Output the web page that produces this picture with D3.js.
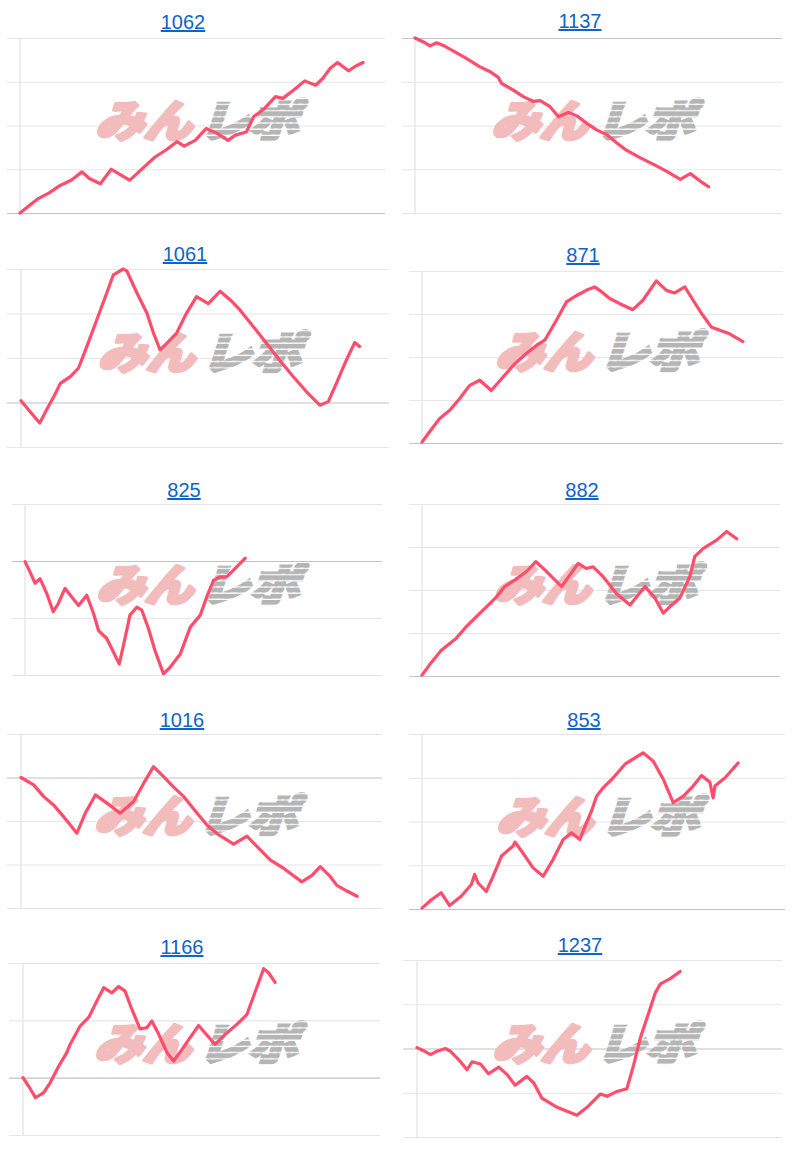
<!DOCTYPE html>
<html>
<head>
<meta charset="utf-8">
<script src="https://cdn.jsdelivr.net/npm/d3@7"></script>
<style>
  html, body { margin: 0; padding: 0; background: #fff; }
  svg { display: block; }
</style>
</head>
<body>
<svg id="chart" width="800" height="1156"></svg>
<script>
// ---------- DATA ----------
const titles = ["1062", "1137", "1061", "871", "825", "882", "1016", "853", "1166", "1237"];

const ticks1062 = [0, 1, 2, 3, 4];
const days1062 = [0,3,5,8,11,14,17,19,22,25,27,30,31,35,37,40,43,45,48,51,54,57,59,62,64,67,70,72,75,78,81,83,85,87,90,92,94];
const values1062 = [0,0.2,0.33,0.46,0.63,0.75,0.94,0.79,0.67,1.0,0.9,0.75,0.82,1.13,1.28,1.44,1.63,1.53,1.66,1.93,1.82,1.66,1.78,1.85,2.2,2.39,2.66,2.62,2.81,3.02,2.92,3.08,3.31,3.44,3.25,3.36,3.44];

const ticks1137 = [-4, -3, -2, -1, 0];
const days1137 = [0,2.3,4.1,5.9,7.7,10.5,14.1,17.7,20.5,22.7,23.6,26.8,29.5,32.3,34.1,36.8,39.1,41.8,44.1,46.8,49.5,52.3,55,57.7,61.4,65,68.6,72.3,75,77.7,80];
const values1137 = [0,-0.09,-0.18,-0.11,-0.17,-0.3,-0.47,-0.66,-0.77,-0.9,-1.04,-1.19,-1.34,-1.45,-1.43,-1.57,-1.8,-1.7,-1.78,-1.95,-2.1,-2.21,-2.4,-2.57,-2.74,-2.89,-3.05,-3.23,-3.1,-3.27,-3.4];

const ticks1061 = [-1, 0, 1, 2, 3];
const days1061 = [0,2.5,5.1,7.1,8.9,10.7,13.4,15.6,17.9,20.6,23.3,25.1,27.8,28.8,31.5,34.2,36,37.8,39.6,42.3,45,47.7,50.9,54.1,56.8,59.5,63.1,66.7,70.3,74,77.6,81.2,83.5,85.7,88.4,90.7,92];
const values1061 = [0.04,-0.21,-0.46,-0.14,0.13,0.43,0.58,0.77,1.26,1.86,2.46,2.87,3.0,2.95,2.46,2.01,1.56,1.18,1.33,1.56,2.01,2.38,2.22,2.5,2.31,2.08,1.71,1.33,0.95,0.58,0.24,-0.06,0.02,0.43,0.95,1.35,1.26];

const ticks871 = [0, 1, 2, 3, 4];
const days871 = [0,2.1,4.9,7.7,10.4,13.2,16,19.2,22.4,25.7,28.9,31.7,34,37.2,40,42.8,45.5,47.8,49.2,52,54.8,58.4,61.2,64.9,67.7,70,72.8,75.1,77.8,80.1,82.5,85.2,88.9];
const values871 = [0.02,0.26,0.57,0.76,1.03,1.34,1.46,1.22,1.53,1.84,2.08,2.27,2.39,2.85,3.28,3.43,3.55,3.63,3.55,3.36,3.24,3.1,3.32,3.77,3.55,3.49,3.63,3.32,2.97,2.7,2.62,2.54,2.36];

const ticks825 = [-2, -1, 0, 1];
const days825 = [0,1.4,2.8,4.2,6.1,7.9,9.3,11.2,13.1,15,17.3,19.2,20.6,22.9,24.8,26.4,28,29.4,31.3,32.7,34.6,36.4,38.8,40.7,43.5,46.3,49.1,50.9,52.8,54.7,56.5,58.4,61.7];
const values825 = [-0.01,-0.19,-0.39,-0.31,-0.57,-0.89,-0.75,-0.48,-0.63,-0.78,-0.6,-0.92,-1.22,-1.36,-1.6,-1.81,-1.36,-0.95,-0.81,-0.86,-1.19,-1.57,-1.98,-1.86,-1.63,-1.16,-0.95,-0.63,-0.34,-0.28,-0.28,-0.16,0.05];

const ticks882 = [0, 1, 2, 3, 4];
const days882 = [0,2.1,5.4,9.6,12.4,15.2,18,20.8,23.1,25.9,29.2,31.8,34.8,39,41.3,43.6,45.9,47.8,50.6,54.3,58.1,62.3,65.1,67.4,69.2,72,74.8,76.2,78.6,82.3,85.1,87.9];
const values882 = [0.02,0.26,0.6,0.88,1.15,1.38,1.61,1.84,2.08,2.23,2.43,2.66,2.43,2.08,2.35,2.62,2.5,2.54,2.31,1.92,1.65,2.08,1.81,1.46,1.61,1.81,2.31,2.78,2.97,3.16,3.36,3.19];

const ticks1016 = [-3, -2, -1, 0, 1];
const days1016 = [0,3.5,6.3,9,11.8,15.5,17.8,20.6,23.8,27.5,31.2,34,36.7,39.5,42.3,45.1,48.8,51.5,54.8,58.9,62.6,65.4,69.1,72.8,77.8,80.6,82.9,85.7,87.5,90.3,93.1];
const values1016 = [0,-0.17,-0.44,-0.63,-0.9,-1.28,-0.82,-0.4,-0.59,-0.82,-0.55,-0.13,0.25,0.02,-0.22,-0.44,-0.82,-1.09,-1.32,-1.53,-1.35,-1.59,-1.9,-2.09,-2.4,-2.25,-2.05,-2.28,-2.48,-2.61,-2.73];

const ticks853 = [0, 1, 2, 3, 4];
const days853 = [0,2.6,5.3,7.6,10.8,13.6,14.5,15.4,17.7,19.6,21.9,25.1,25.6,27.8,30.6,33.4,36.1,38.9,41.2,43.5,45.3,46.7,48.1,49.9,52.7,55.9,60.9,63.7,66.5,69.2,72,74.7,77,79.3,80.2,80.7,83.5,87.1];
const values853 = [0.02,0.21,0.37,0.08,0.29,0.56,0.79,0.6,0.4,0.75,1.21,1.44,1.53,1.28,0.94,0.75,1.13,1.59,1.74,1.59,1.97,2.24,2.58,2.77,3.0,3.31,3.57,3.38,2.96,2.43,2.58,2.81,3.05,2.9,2.54,2.81,3.0,3.34];

const ticks1166 = [-1, 0, 1, 2];
const days1166 = [0,1.6,3.5,5.8,7.6,10,12.3,13.2,16,18.4,20.7,22.6,24.9,26.8,28.6,30.5,32.8,34.7,36.1,38,40.3,42.2,44.5,46.8,49.2,51,53.8,57.1,59.9,62.7,64.6,67.4,68.8,70.6];
const values1166 = [0,-0.15,-0.35,-0.26,-0.09,0.2,0.44,0.58,0.9,1.05,1.34,1.57,1.48,1.59,1.51,1.19,0.85,0.87,0.99,0.76,0.44,0.29,0.49,0.7,0.91,0.78,0.58,0.78,0.93,1.1,1.42,1.9,1.83,1.66];

const ticks1237 = [-2, -1, 0, 1, 2];
const days1237 = [0,1.8,3.7,5.5,7.8,9.1,11.4,13.7,15.1,17.4,19.6,22.4,24.7,26.9,30.1,32,34.2,38.4,41.1,43.8,46.6,50.2,52.1,54.8,57.5,59.4,61.2,63.5,65.3,66.7,69.4,72.1];
const values1237 = [0.02,-0.05,-0.14,-0.06,0,-0.06,-0.25,-0.48,-0.3,-0.35,-0.57,-0.42,-0.59,-0.83,-0.63,-0.78,-1.12,-1.33,-1.42,-1.51,-1.33,-1.03,-1.08,-0.97,-0.91,-0.36,0.24,0.81,1.26,1.46,1.58,1.74];

const seriesDays = [days1062, days1137, days1061, days871, days825, days882, days1016, days853, days1166, days1237];
const seriesValues = [values1062, values1137, values1061, values871, values825, values882, values1016, values853, values1166, values1237];
const seriesTicks = [ticks1062, ticks1137, ticks1061, ticks871, ticks825, ticks882, ticks1016, ticks853, ticks1166, ticks1237];
const xDomain = [0, 100];

// ---------- LAYOUT (positions, not data) ----------
const layout = [
  {cx:183, by:29,  gl:7,   ax:20,  r:385, top:38,  bot:213},
  {cx:580, by:28,  gl:402, ax:415, r:782, top:38,  bot:213},
  {cx:185, by:261, gl:7,   ax:21,  r:389, top:269, bot:447},
  {cx:583, by:262, gl:409, ax:422, r:783, top:271, bot:443},
  {cx:184, by:497, gl:12,  ax:25,  r:382, top:504, bot:675},
  {cx:582, by:497, gl:409, ax:422, r:780, top:504, bot:676},
  {cx:182, by:727, gl:7,   ax:21,  r:382, top:734, bot:908},
  {cx:584, by:727, gl:409, ax:422, r:785, top:734, bot:909},
  {cx:182, by:954, gl:9,   ax:23,  r:380, top:963, bot:1135},
  {cx:580, by:952, gl:403, ax:417, r:782, top:960, bot:1137}
];

const svg = d3.select("#chart");
const defs = svg.append("defs");
const pat = defs.append("pattern")
  .attr("id", "stripes").attr("patternUnits", "userSpaceOnUse")
  .attr("width", 20).attr("height", 6.5);
pat.append("rect").attr("x", 0).attr("y", 0).attr("width", 20).attr("height", 5)
  .attr("fill", "#b5b5b5");

titles.forEach((t, i) => {
  const L = layout[i];
  const g = svg.append("g");
  const ticks = seriesTicks[i];
  const x = d3.scaleLinear().domain(xDomain).range([L.ax, L.r]);
  const y = d3.scaleLinear().domain(d3.extent(ticks)).range([L.bot, L.top]);

  // gridlines via axis
  const grid = g.append("g")
    .attr("transform", `translate(${L.gl},0)`)
    .call(d3.axisRight(y).tickValues(ticks).tickSize(L.r - L.gl).tickFormat(""));
  grid.select(".domain").remove();
  grid.selectAll(".tick line")
    .attr("stroke", d => d === 0 ? "#c2c2c2" : "#e6e6e6")
    .attr("stroke-width", 1.2);

  // vertical axis line
  g.append("line")
    .attr("x1", L.ax).attr("x2", L.ax)
    .attr("y1", L.top).attr("y2", L.bot + 1)
    .attr("stroke", "#e2e2e2").attr("stroke-width", 1.2);

  // watermark
  const wx = (L.ax + L.r) / 2, wy = (L.top + L.bot) / 2 - 8;
  const wm = g.append("g").attr("transform", `translate(${wx},${wy})`);
  wm.append("text")
    .attr("transform", "translate(-53,0) skewX(-18) scale(1.05,0.95)")
    .attr("text-anchor", "middle").attr("dominant-baseline", "central")
    .attr("font-family", "'Noto Sans CJK JP', sans-serif")
    .attr("font-weight", 900).attr("font-size", 46)
    .attr("fill", "#f2bcbc").attr("stroke", "#f2bcbc").attr("stroke-width", 3.5)
    .attr("stroke-linejoin", "round")
    .text("みん");
  wm.append("text")
    .attr("transform", "translate(52,0) skewX(-18) scale(1.08,0.95)")
    .attr("text-anchor", "middle").attr("dominant-baseline", "central")
    .attr("font-family", "'Noto Sans CJK JP', sans-serif")
    .attr("font-weight", 900).attr("font-size", 46)
    .attr("fill", "url(#stripes)").attr("stroke", "url(#stripes)").attr("stroke-width", 3.5)
    .text("レポ");

  // title
  g.append("text")
    .attr("x", L.cx).attr("y", L.by)
    .attr("text-anchor", "middle")
    .attr("font-family", "Arial, 'Liberation Sans', sans-serif")
    .attr("font-size", 20)
    .attr("fill", "#0f63c9")
    .style("text-decoration", "underline")
    .text(t);

  // line
  const pts = seriesDays[i].map((d, k) => [d, seriesValues[i][k]]);
  g.append("path")
    .datum(pts)
    .attr("fill", "none")
    .attr("stroke", "#ff4d6b")
    .attr("stroke-width", 3.2)
    .attr("stroke-linejoin", "round")
    .attr("stroke-linecap", "round")
    .attr("d", d3.line().x(d => x(d[0])).y(d => y(d[1])));
});
</script>
</body>
</html>
